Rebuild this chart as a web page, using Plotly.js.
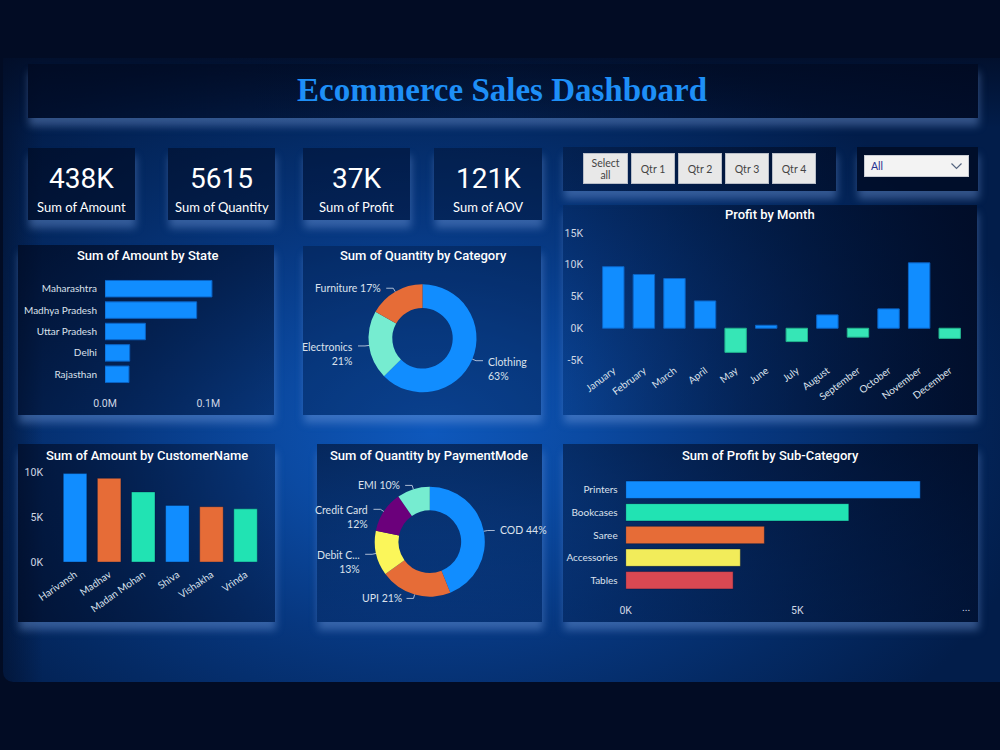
<!DOCTYPE html>
<html>
<head>
<meta charset="utf-8">
<title>Ecommerce Sales Dashboard</title>
<script src="https://cdn.plot.ly/plotly-3.0.1.min.js"></script>
<style>
  html, body { margin: 0; padding: 0; background: #020c24; }
  #stage { position: relative; width: 1000px; height: 750px; overflow: hidden; background: #020c24; }
  #board {
    position: absolute; left: 3px; top: 58px; width: 997px; height: 624px;
    border-radius: 0 0 0 10px;
    background:
      linear-gradient(to bottom, rgba(2,12,36,0.75) 0px, rgba(2,12,36,0) 70px),
      linear-gradient(to right, rgba(2,14,40,0.55) 0px, rgba(2,14,40,0) 40px),
      radial-gradient(ellipse 62% 66% at 43% 60%, #0e58bc 0%, #0b4aa2 25%, #073881 50%, #042a64 75%, #021d4a 100%);
  }
  .panel {
    position: absolute;
    background: rgba(0, 10, 36, 0.38);
    box-shadow: 1px 8px 8px rgba(120, 160, 225, 0.42);
  }
  #quarters { position: absolute; left: 583px; top: 153px; display: flex; gap: 3px; }
  .qbtn {
    width: 44px; height: 31px; box-sizing: border-box;
    background: #e8e8e8; border: 1px solid #b9bec8;
    display: flex; align-items: center; justify-content: center; text-align: center;
    font: 10.5px Lato, sans-serif; color: #444; line-height: 12px;
  }
  .qbtn:first-child { width: 45px; }
  #dropdown {
    position: absolute; left: 864px; top: 155px; width: 105px; height: 22px; box-sizing: border-box;
    background: #f3f3f3; border: 1px solid #c9ccd3;
    font: 10.5px Lato, sans-serif; color: #26308f;
  }
  #dropdown span { position: absolute; left: 6px; top: 4px; }
  #dropdown svg { position: absolute; right: 6px; top: 7px; }
  #chart { position: absolute; left: 0; top: 0; width: 1000px; height: 750px; }
</style>
</head>
<body>
<div id="stage">
  <div id="board"></div>

  <!-- card backgrounds -->
  <div class="panel" style="left:28px;top:64px;width:950px;height:54px;background:linear-gradient(to right, rgba(0,8,30,0.62), rgba(0,8,30,0.3) 50%, rgba(0,8,30,0.72));"></div>
  <div class="panel" style="left:28px;top:148px;width:107px;height:72px;background:rgba(0,8,30,0.6);"></div>
  <div class="panel" style="left:168px;top:148px;width:107px;height:72px;background:rgba(0,8,30,0.5);"></div>
  <div class="panel" style="left:303px;top:148px;width:107px;height:72px;background:rgba(0,8,30,0.42);"></div>
  <div class="panel" style="left:434px;top:148px;width:108px;height:72px;background:rgba(0,8,30,0.36);"></div>
  <div class="panel" style="left:563px;top:147px;width:273px;height:44px;background:linear-gradient(to right, rgba(0,8,30,0.3), rgba(0,8,30,0.6));"></div>
  <div class="panel" style="left:857px;top:147px;width:121px;height:44px;background:rgba(0,8,30,0.72);"></div>
  <div class="panel" style="left:18px;top:245px;width:256px;height:170px;background:linear-gradient(to bottom right, rgba(0,8,30,0.68), rgba(0,8,30,0.3));"></div>
  <div class="panel" style="left:303px;top:246px;width:238px;height:169px;background:rgba(0,8,30,0.28);"></div>
  <div class="panel" style="left:563px;top:205px;width:414px;height:210px;background:linear-gradient(to right, rgba(0,8,30,0.15), rgba(0,8,30,0.75));"></div>
  <div class="panel" style="left:18px;top:444px;width:257px;height:178px;background:linear-gradient(to right, rgba(0,8,30,0.62), rgba(0,8,30,0.3));"></div>
  <div class="panel" style="left:317px;top:444px;width:225px;height:178px;background:linear-gradient(to bottom, rgba(0,8,30,0.55), rgba(0,8,30,0.15));"></div>
  <div class="panel" style="left:563px;top:444px;width:415px;height:178px;background:linear-gradient(to top right, rgba(0,8,30,0.2), rgba(0,8,30,0.72));"></div>

  <div id="quarters"></div>
  <div id="dropdown"><span>All</span>
    <svg width="11" height="7" viewBox="0 0 11 7"><polyline points="0.5,0.5 5.5,5.5 10.5,0.5" fill="none" stroke="#55657f" stroke-width="1.2"/></svg>
  </div>

  <div id="chart"></div>
</div>

<script>
// ---------------- data ----------------
const states = ['Maharashtra', 'Madhya Pradesh', 'Uttar Pradesh', 'Delhi', 'Rajasthan'];
const stateAmount = [103500, 88700, 39100, 23900, 23200];

const categories = ['Clothing', 'Electronics', 'Furniture'];
const categoryQty = [3516, 1154, 945];

const months = ['January', 'February', 'March', 'April', 'May', 'June', 'July',
                'August', 'September', 'October', 'November', 'December'];
const monthProfit = [9700, 8470, 7830, 4300, -3800, 470, -2100, 2100, -1400, 3050, 10300, -1600];

const customers = ['Harivansh', 'Madhav', 'Madan Mohan', 'Shiva', 'Vishakha', 'Vrinda'];
const customerAmount = [9902, 9365, 7846, 6339, 6193, 5951];

const paymentModes = ['COD', 'UPI', 'Debit Card', 'Credit Card', 'EMI'];
const paymentQty = [2466, 1183, 740, 683, 543];

const subCategories = ['Printers', 'Bookcases', 'Saree', 'Accessories', 'Tables'];
const subCategoryProfit = [8580, 6500, 4040, 3340, 3130];

const totalAmount = 438000;
const totalAOV = 121000;
const kpiLabels = ['Sum of Amount', 'Sum of Quantity', 'Sum of Profit', 'Sum of AOV'];

const quarterButtons = ['Select<br>all', 'Qtr 1', 'Qtr 2', 'Qtr 3', 'Qtr 4'];

// ---------------- helpers ----------------
const W = 1000, H = 750;
const X = px => px / W;            // page pixel -> paper x
const Y = py => 1 - py / H;        // page pixel -> paper y
const sum = a => a.reduce((s, v) => s + v, 0);
const kFmt = v => Math.round(v / 1000) + 'K';
const mFmt = v => (v / 1e6).toFixed(1) + 'M';

const BLUE = '#118DFF', ORANGE = '#E66C37', TEAL = '#21E3B3', MINT = '#76ECD0',
      YELLOW = '#F2EC5A', PURPLE = '#6B007B', RED = '#DA4852', NEG = '#36E6B6';

const catFont = { family: 'Lato, sans-serif', size: 10, color: '#dbe1ec' };
const pieFont = { family: 'Lato, sans-serif', size: 10.5, color: '#dbe1ec' };
const numFont = { family: 'Roboto, sans-serif', size: 10.5, color: '#cfd6e3' };

// quarter slicer buttons
document.getElementById('quarters').innerHTML =
  quarterButtons.map(q => '<div class="qbtn">' + q + '</div>').join('');

// text measurement for donut labels
const ctx = document.createElement('canvas').getContext('2d');
ctx.font = '10.5px Lato';
const textW = s => ctx.measureText(s).width;

// outside labels with leader lines for a donut (page pixel geometry)
function donutLabels(names, vals, cx, cy, R, xmin, xmax) {
  const total = sum(vals);
  const ann = [], shp = [];
  let cum = 0;
  names.forEach((name, i) => {
    const f = vals[i] / total;
    const th = 2 * Math.PI * (cum + f / 2);
    cum += f;
    const s = Math.sin(th), c = Math.cos(th);
    const p = { x: cx + R * s, y: cy - R * c };
    const e = { x: cx + (R + 4) * s, y: cy - (R + 4) * c };
    const dir = s >= 0 ? 1 : -1;
    const h = { x: e.x + dir * 7, y: e.y };
    const pct = Math.round(f * 100) + '%';
    const room = dir > 0 ? xmax - (h.x + 3) : (h.x - 3) - xmin;
    let txt = name + ' ' + pct, twoLine = false;
    if (textW(txt) > room) {
      twoLine = true;
      let nm = name;
      if (textW(nm) > room) {
        while (nm.length > 1 && textW(nm + '...') > room) nm = nm.slice(0, -1);
        nm = nm + '...';
      }
      txt = nm + '<br>' + pct;
    }
    shp.push({
      type: 'path', xref: 'paper', yref: 'paper',
      path: 'M' + X(p.x) + ',' + Y(p.y) + ' L' + X(e.x) + ',' + Y(e.y) + ' L' + X(h.x) + ',' + Y(h.y),
      line: { color: 'rgba(200,210,228,0.85)', width: 1 }
    });
    ann.push({
      xref: 'paper', yref: 'paper', showarrow: false,
      x: X(h.x + dir * 3), y: twoLine ? Y(h.y - 7) : Y(h.y),
      xanchor: dir > 0 ? 'left' : 'right', yanchor: twoLine ? 'top' : 'middle',
      align: dir > 0 ? 'left' : 'right',
      text: txt, font: pieFont
    });
  });
  return { ann, shp };
}

// ---------------- traces ----------------
const traces = [];

// Sum of Amount by State
traces.push({
  type: 'bar', orientation: 'h', y: states, x: stateAmount, xaxis: 'x', yaxis: 'y',
  width: 0.77, marker: { color: BLUE, line: { color: '#0b63c4', width: 1 } },
  hoverinfo: 'none'
});

// Sum of Quantity by Category
const catGeo = { cx: 422.5, cy: 338.3, R: 54 };
traces.push({
  type: 'pie', labels: categories, values: categoryQty, hole: 0.56,
  sort: false, direction: 'clockwise', rotation: 0, textinfo: 'none',
  marker: { colors: [BLUE, MINT, ORANGE], line: { width: 0 } },
  domain: { x: [X(catGeo.cx - catGeo.R), X(catGeo.cx + catGeo.R)],
            y: [Y(catGeo.cy + catGeo.R), Y(catGeo.cy - catGeo.R)] },
  hoverinfo: 'none'
});

// Profit by Month
traces.push({
  type: 'bar', x: months, y: monthProfit, xaxis: 'x2', yaxis: 'y2', width: 0.7,
  marker: { color: monthProfit.map(v => v >= 0 ? BLUE : NEG),
            line: { color: monthProfit.map(v => v >= 0 ? '#0b63c4' : '#22b28c'), width: 1 } },
  hoverinfo: 'none'
});

// Sum of Amount by CustomerName
const custPalette = [BLUE, ORANGE, TEAL];
traces.push({
  type: 'bar', x: customers, y: customerAmount, xaxis: 'x3', yaxis: 'y3', width: 0.69,
  marker: { color: customers.map((_, i) => custPalette[i % 3]),
            line: { color: 'rgba(0,20,60,0.35)', width: 1 } },
  hoverinfo: 'none'
});

// Sum of Quantity by PaymentMode
const payGeo = { cx: 429.8, cy: 541.7, R: 55 };
traces.push({
  type: 'pie', labels: paymentModes, values: paymentQty, hole: 0.57,
  sort: false, direction: 'clockwise', rotation: 0, textinfo: 'none',
  marker: { colors: [BLUE, ORANGE, '#FBF65A', PURPLE, MINT], line: { width: 0 } },
  domain: { x: [X(payGeo.cx - payGeo.R), X(payGeo.cx + payGeo.R)],
            y: [Y(payGeo.cy + payGeo.R), Y(payGeo.cy - payGeo.R)] },
  hoverinfo: 'none'
});

// Sum of Profit by Sub-Category
traces.push({
  type: 'bar', orientation: 'h', y: subCategories, x: subCategoryProfit, xaxis: 'x4', yaxis: 'y4',
  width: 0.77,
  marker: { color: [BLUE, TEAL, ORANGE, YELLOW, RED],
            line: { color: 'rgba(0,20,60,0.45)', width: 1 } },
  hoverinfo: 'none'
});

// ---------------- annotations ----------------
const titleFont = { family: 'Roboto, sans-serif', size: 13, color: '#ffffff', weight: 500 };
const ann = [];
const shapes = [];

ann.push({ xref: 'paper', yref: 'paper', x: X(502), y: Y(90), showarrow: false,
  text: 'Ecommerce Sales Dashboard', xanchor: 'center', yanchor: 'middle',
  font: { family: 'Liberation Serif, serif', size: 33, color: '#1e8ff7', weight: 'bold' } });

const kpiValues = [kFmt(totalAmount), String(sum(categoryQty)), kFmt(sum(monthProfit)), kFmt(totalAOV)];
const kpiCenters = [81.5, 221.5, 356.5, 488];
kpiValues.forEach((v, i) => {
  ann.push({ xref: 'paper', yref: 'paper', x: X(kpiCenters[i]), y: Y(178), showarrow: false,
    text: v, xanchor: 'center', yanchor: 'middle',
    font: { family: 'Roboto, sans-serif', size: 28, color: '#ffffff' } });
  ann.push({ xref: 'paper', yref: 'paper', x: X(kpiCenters[i]), y: Y(207), showarrow: false,
    text: kpiLabels[i], xanchor: 'center', yanchor: 'middle',
    font: { family: 'Lato, sans-serif', size: 13, color: '#ffffff' } });
});

[['Sum of Amount by State', 147, 255], ['Sum of Quantity by Category', 423, 255],
 ['Profit by Month', 770, 214], ['Sum of Amount by CustomerName', 147, 455],
 ['Sum of Quantity by PaymentMode', 429, 455], ['Sum of Profit by Sub-Category', 770, 455]]
  .forEach(([t, x, y]) => ann.push({ xref: 'paper', yref: 'paper', x: X(x), y: Y(y),
    showarrow: false, text: t, xanchor: 'center', yanchor: 'middle', font: titleFont }));

ann.push({ xref: 'paper', yref: 'paper', x: X(966), y: Y(607), showarrow: false,
  text: '...', xanchor: 'center', yanchor: 'middle', font: numFont });

const catLabels = donutLabels(categories, categoryQty, catGeo.cx, catGeo.cy, catGeo.R, 301, 545);
const payLabels = donutLabels(paymentModes, paymentQty, payGeo.cx, payGeo.cy, payGeo.R, 315, 546);
ann.push(...catLabels.ann, ...payLabels.ann);
shapes.push(...catLabels.shp, ...payLabels.shp);

// ---------------- axes ----------------
const baseAxis = { showgrid: false, zeroline: false, showline: false, ticks: '', fixedrange: true };

const stateTicks = [0, 100000];
const profitTicks = [-5000, 0, 5000, 10000, 15000];
const custTicks = [0, 5000, 10000];
const subTicks = [0, 5000];

const layout = {
  width: W, height: H,
  margin: { l: 0, r: 0, t: 0, b: 0, pad: 0 },
  paper_bgcolor: 'rgba(0,0,0,0)', plot_bgcolor: 'rgba(0,0,0,0)',
  showlegend: false,
  font: { family: 'Lato, sans-serif', color: '#dbe1ec' },

  xaxis: Object.assign({}, baseAxis, { domain: [X(105), X(260)], range: [0, 150000],
    tickvals: stateTicks, ticktext: stateTicks.map(mFmt), tickfont: numFont, ticklabelstandoff: 10 }),
  yaxis: Object.assign({}, baseAxis, { domain: [Y(385), Y(278)], autorange: 'reversed',
    tickfont: catFont, ticklabelstandoff: 7 }),

  xaxis2: Object.assign({}, baseAxis, { domain: [X(598), X(965)], anchor: 'y2',
    tickangle: -37, tickfont: catFont, ticklabelstandoff: 2 }),
  yaxis2: Object.assign({}, baseAxis, { domain: [Y(360), Y(233)], anchor: 'x2', range: [-5000, 15000],
    tickvals: profitTicks, ticktext: profitTicks.map(kFmt), tickfont: numFont, ticklabelstandoff: 14 }),

  xaxis3: Object.assign({}, baseAxis, { domain: [X(58), X(262.6)], anchor: 'y3',
    tickangle: -35, tickfont: catFont, ticklabelstandoff: 4 }),
  yaxis3: Object.assign({}, baseAxis, { domain: [Y(562), Y(472.7)], anchor: 'x3', range: [0, 10000],
    tickvals: custTicks, ticktext: custTicks.map(kFmt), tickfont: numFont, ticklabelstandoff: 14 }),

  xaxis4: Object.assign({}, baseAxis, { domain: [X(625.7), X(969)], anchor: 'y4', range: [0, 10000],
    tickvals: subTicks, ticktext: subTicks.map(kFmt), tickfont: numFont, ticklabelstandoff: 11 }),
  yaxis4: Object.assign({}, baseAxis, { domain: [Y(591.6), Y(478.4)], anchor: 'x4', autorange: 'reversed',
    tickfont: catFont, ticklabelstandoff: 7 }),

  annotations: ann,
  shapes: shapes
};

Plotly.newPlot('chart', traces, layout, { staticPlot: true, displayModeBar: false });
</script>
</body>
</html>
